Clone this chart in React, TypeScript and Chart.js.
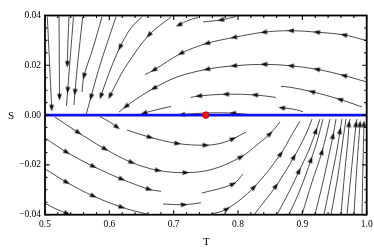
import React, { useEffect, useRef } from "react";
import { Chart, registerables } from "chart.js";

Chart.register(...registerables);

// [T, S, arrowFlag]
type P = number[];

const upperStreams: P[][] = [
  [[1.0, 0.0299], [0.9647, 0.0322, 1], [0.9227, 0.0333, 1], [0.8823, 0.0339, 1], [0.8404, 0.0333, 1], [0.7937, 0.0312, 1], [0.7518, 0.0288, 1], [0.7114, 0.0248, 1], [0.6694, 0.0181, 1], [0.6554, 0.0163]],
  [[1.0, 0.0133], [0.9647, 0.0159, 1], [0.9227, 0.0184, 1], [0.8823, 0.0198, 1], [0.8404, 0.0204, 1], [0.7937, 0.0198, 1], [0.7518, 0.0184, 1], [0.7052, 0.0153], [0.6694, 0.0108, 1], [0.6399, 0.0061], [0.6259, 0.0035, 1], [0.615, 0.0012]],
  [[0.9927, 0.0033], [0.9585, 0.0063, 1], [0.915, 0.0094, 1], [0.8808, 0.0112], [0.8668, 0.0115]],
  [[0.859, 0.0071], [0.8264, 0.0081, 1], [0.7813, 0.0084, 1], [0.7393, 0.0077, 1], [0.7264, 0.0071]],
  [[0.901, 0.0014], [0.8839, 0.0025], [0.8683, 0.0029, 1]],
  [[0.8248, 0.0], [0.7922, 0.0008, 1], [0.758, 0.0009], [0.7331, 0.0006], [0.7129, 0.0002, 1], [0.7067, 0.0]],
  [[0.6958, 0.0035], [0.6741, 0.0022], [0.6539, 0.0008, 1]],
  [[0.7378, 0.0392], [0.7222, 0.038], [0.7083, 0.0362, 1]],
  [[0.7969, 0.0396], [0.7735, 0.0382, 1], [0.7456, 0.0374]],
  [[0.5036, 0.0395], [0.507, 0.0213], [0.5104, 0.0029, 1]],
  [[0.5218, 0.0395], [0.5222, 0.0221], [0.5225, 0.0073, 1]],
  [[0.5373, 0.0395], [0.5357, 0.0302], [0.5347, 0.0205, 1]],
  [[0.5443, 0.0395], [0.5389, 0.0221], [0.5353, 0.0101, 1], [0.5334, 0.0037]],
  [[0.5586, 0.0395], [0.5513, 0.0221], [0.5466, 0.0093, 1], [0.5451, 0.0041]],
  [[0.5886, 0.0395], [0.5746, 0.0269], [0.5606, 0.0157, 1], [0.5575, 0.0093]],
  [[0.6103, 0.0395], [0.5855, 0.0201], [0.5715, 0.0073, 1], [0.5637, 0.0]],
  [[0.6508, 0.0395], [0.6337, 0.035], [0.6166, 0.0273, 1], [0.5995, 0.0169], [0.587, 0.0077, 1]],
  [[0.6958, 0.0394], [0.6616, 0.0322, 1], [0.6259, 0.0197], [0.6119, 0.0133], [0.601, 0.0077, 1]],
];

const lowerStreams: P[][] = [
  [[0.5855, -0.0006], [0.5995, -0.0026], [0.6119, -0.0048, 1]],
  [[0.5155, -0.0008], [0.5518, -0.007, 1], [0.5933, -0.0136, 1], [0.6347, -0.019, 1], [0.6756, -0.0222, 1], [0.7187, -0.0231, 1], [0.7596, -0.0218], [0.8046, -0.0168, 1], [0.8311, -0.0116], [0.8497, -0.0075, 1], [0.8652, -0.0028]],
  [[0.6274, -0.006], [0.6632, -0.0089, 1], [0.7059, -0.0114, 1], [0.7498, -0.0121, 1], [0.7751, -0.0112], [0.7922, -0.0095, 1], [0.8124, -0.0068]],
  [[0.5, -0.0092], [0.5337, -0.0149, 1], [0.5751, -0.0206, 1], [0.6192, -0.0257, 1], [0.6616, -0.0298, 1], [0.6803, -0.0306]],
  [[0.5, -0.0216], [0.5337, -0.027, 1], [0.5751, -0.0325, 1], [0.6192, -0.037, 1], [0.6616, -0.04]],
  [[0.5, -0.0354], [0.5171, -0.0377], [0.5342, -0.0395, 1]],
  [[0.6834, -0.0357], [0.716, -0.036, 1], [0.7425, -0.0352]],
  [[0.744, -0.0313], [0.7922, -0.0277, 1], [0.8077, -0.0237]],
  [[0.7549, -0.04], [0.7829, -0.0377, 1], [0.8248, -0.029, 1], [0.8663, -0.0156, 1], [0.8843, -0.0076], [0.8963, -0.0024]],
  [[0.8248, -0.04], [0.859, -0.0285, 1], [0.887, -0.0168, 1], [0.9057, -0.0076], [0.915, -0.0016]],
  [[0.8606, -0.04], [0.8808, -0.0301], [0.8948, -0.0225, 1], [0.9103, -0.014], [0.9211, -0.0064, 1], [0.9274, -0.0016]],
  [[0.8792, -0.04], [0.8963, -0.0301], [0.9134, -0.018, 1], [0.9243, -0.0092], [0.932, -0.0016]],
  [[0.8994, -0.04], [0.915, -0.0269], [0.9305, -0.0148, 1], [0.943, -0.0016]],
  [[0.9196, -0.04], [0.932, -0.0269], [0.943, -0.014], [0.9476, -0.0084, 1], [0.9523, -0.0016]],
  [[0.9336, -0.04], [0.9445, -0.0261], [0.9538, -0.014], [0.9585, -0.0064, 1], [0.9616, -0.0016]],
  [[0.9445, -0.04], [0.9554, -0.0241], [0.9631, -0.01], [0.9678, -0.0016]],
  [[0.96, -0.04], [0.9662, -0.022], [0.9709, -0.01], [0.9725, -0.0036, 1], [0.974, -0.0016]],
  [[0.9694, -0.04], [0.9771, -0.02], [0.9834, -0.0036, 1], [0.9849, -0.0016]],
  [[0.9802, -0.04], [0.9849, -0.02], [0.9896, -0.0036, 1]],
  [[0.9927, -0.04], [0.9942, -0.02], [0.9958, -0.0036, 1]],
];

const invariantLine: number[][] = [[0.5, 0], [1.0, 0]];
const fixedPoint: number[] = [0.75, 0];

const xTickValues = [0.5, 0.6, 0.7, 0.8, 0.9, 1.0];
const xTickLabels = ["0.5", "0.6", "0.7", "0.8", "0.9", "1.0"];
const yTickValues = [0.04, 0.02, 0.0, -0.02, -0.04];
const yTickLabels = ["0.04", "0.02", "0.00", "\u22120.02", "\u22120.04"];
const xMinorCount = 25; // 0.02 steps
const yMinorCount = 16; // 0.005 steps

function makeArrowImage(): HTMLCanvasElement {
  const c = document.createElement("canvas");
  c.width = 7;
  c.height = 7;
  const g = c.getContext("2d")!;
  g.fillStyle = "#111";
  g.beginPath();
  g.moveTo(3.5, 0);
  g.lineTo(5.9, 6.6);
  g.lineTo(1.1, 6.6);
  g.closePath();
  g.fill();
  return c;
}

const framePlugin = {
  id: "frame",
  afterDatasetsDraw(chart: any) {
    const { ctx, chartArea: a, scales } = chart;
    const xs = scales.x;
    const ys = scales.y;
    ctx.save();
    ctx.strokeStyle = "#000";
    ctx.lineWidth = 1.1;
    ctx.beginPath();
    for (let i = 0; i <= xMinorCount; i++) {
      const v = 0.5 + (i * 0.5) / xMinorCount;
      const px = xs.getPixelForValue(v);
      const len = i % 5 === 0 ? 4.5 : 2.5;
      ctx.moveTo(px, a.bottom);
      ctx.lineTo(px, a.bottom - len);
      ctx.moveTo(px, a.top);
      ctx.lineTo(px, a.top + len);
    }
    for (let i = 0; i <= yMinorCount; i++) {
      const v = -0.04 + (i * 0.08) / yMinorCount;
      const py = ys.getPixelForValue(v);
      const len = i % 4 === 0 ? 4.5 : 2.5;
      ctx.moveTo(a.left, py);
      ctx.lineTo(a.left + len, py);
      ctx.moveTo(a.right, py);
      ctx.lineTo(a.right - len, py);
    }
    ctx.stroke();
    ctx.lineWidth = 1.8;
    ctx.strokeRect(a.left, a.top, a.right - a.left, a.bottom - a.top);

    ctx.fillStyle = "#000";
    ctx.font = '9.5px "Liberation Serif", "DejaVu Serif", serif';
    ctx.textAlign = "right";
    ctx.textBaseline = "middle";
    yTickValues.forEach((v, i) => {
      ctx.fillText(yTickLabels[i], a.left - 4, ys.getPixelForValue(v));
    });
    ctx.textAlign = "center";
    xTickValues.forEach((v, i) => {
      ctx.fillText(xTickLabels[i], xs.getPixelForValue(v), a.bottom + 9.5);
    });
    ctx.font = '11px "Liberation Serif", "DejaVu Serif", serif';
    ctx.fillText("S", 11, (a.top + a.bottom) / 2 + 1);
    ctx.fillText("T", (a.left + a.right) / 2 + 0.5, 242);
    ctx.restore();
  },
};

export default function App() {
  const ref = useRef<HTMLCanvasElement>(null);
  useEffect(() => {
    if (!ref.current) return;
    const arrowImg = makeArrowImage();
    const allStreams = [...upperStreams, ...lowerStreams];
    const streamSets = allStreams.map((s) => ({
      type: "scatter" as const,
      data: s.map((p) => ({ x: p[0], y: p[1] })),
      showLine: true,
      borderColor: "rgba(20,20,20,0.9)",
      borderWidth: 0.85,
      tension: 0.35,
      pointRadius: 0,
      order: 3,
    }));
    const arrows: any[] = [];
    allStreams.forEach((s) => {
      s.forEach((p, i) => {
        if (p[2]) {
          const prev = s[i - 1] || p;
          const next = s[i + 1] || p;
          arrows.push({ x: p[0], y: p[1], ax: prev[0], ay: prev[1], bx: next[0], by: next[1] });
        }
      });
    });
    const chart = new Chart(ref.current, {
      type: "scatter",
      data: {
        datasets: [
          {
            data: [{ x: fixedPoint[0], y: fixedPoint[1] }],
            pointRadius: 3.4,
            pointBackgroundColor: "#e3141e",
            pointBorderColor: "#a80000",
            pointBorderWidth: 0.6,
            order: 0,
          } as any,
          {
            data: invariantLine.map((p) => ({ x: p[0], y: p[1] })),
            showLine: true,
            borderColor: "#1010ee",
            borderWidth: 2.6,
            pointRadius: 0,
            order: 1,
          },
          {
            data: arrows,
            pointStyle: arrowImg,
            pointRadius: 3,
            rotation: (c: any) => {
              const r = c.raw;
              if (!r) return 0;
              const xs = c.chart.scales.x;
              const ys = c.chart.scales.y;
              const dx = xs.getPixelForValue(r.bx) - xs.getPixelForValue(r.ax);
              const dy = ys.getPixelForValue(r.by) - ys.getPixelForValue(r.ay);
              return (Math.atan2(dx, -dy) * 180) / Math.PI;
            },
            order: 2,
          } as any,
          ...streamSets,
        ],
      },
      options: {
        animation: false,
        responsive: false,
        events: [],
        layout: { padding: { left: 45, right: 7.3, top: 15.5, bottom: 34.3 } },
        scales: {
          x: { type: "linear", min: 0.5, max: 1.0, display: false },
          y: { type: "linear", min: -0.04, max: 0.04, display: false },
        },
        plugins: { legend: { display: false }, tooltip: { enabled: false } },
      },
      plugins: [framePlugin],
    });
    return () => chart.destroy();
  }, []);
  return (
    <div style={{ position: "absolute", left: 0, top: 0, width: 374, height: 249, background: "#fff" }}>
      <canvas ref={ref} width={374} height={249} style={{ display: "block" }} />
    </div>
  );
}
